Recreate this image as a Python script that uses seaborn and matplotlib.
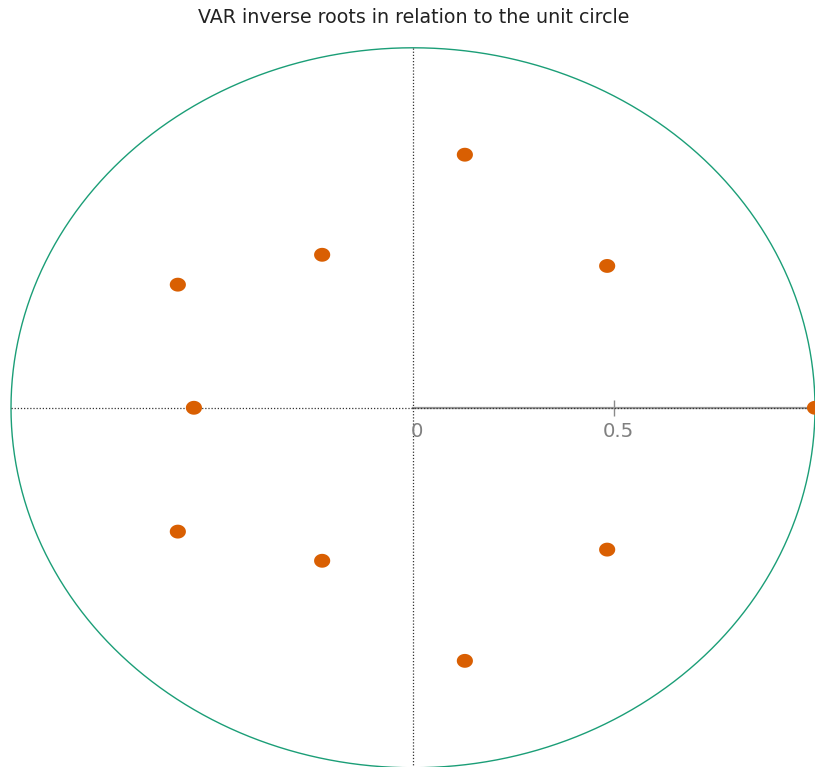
import numpy as np
import pandas as pd
import matplotlib
matplotlib.use("Agg")
import matplotlib.pyplot as plt
from matplotlib.path import Path
from matplotlib.transforms import offset_copy
import seaborn as sns

# Inverse roots of the VAR companion matrix (real, imaginary parts)
root_real = [0.129, -0.226, -0.585, 0.483, -0.545, 1.0, -0.585, -0.226, 0.483, 0.129]
root_imag = [0.703, 0.425, 0.342, 0.394, 0.0, 0.0, -0.344, -0.425, -0.394, -0.703]
tick_values = [0, 0.5]
tick_labels = ["0", "0.5"]

roots = pd.DataFrame({"real": root_real, "imag": root_imag})

sns.set_theme(style="white")
plt.rcParams["font.family"] = ["DejaVu Sans"]

fig = plt.figure(figsize=(8.15, 7.67), dpi=100)
ax = fig.add_axes([0.0135, -0.001, 0.9865, 0.9387])
ax.set_xlim(-1, 1)
ax.set_ylim(-1, 1)

# unit circle
theta = np.linspace(0, 2 * np.pi, 721)
ax.plot(np.cos(theta), np.sin(theta), color="#1b9e77", lw=1.0, clip_on=False, zorder=2)

# reference lines through the origin
ax.plot([-1, 1], [0, 0], color="#333333", lw=0.9, ls=(0, (1, 1.5)), zorder=3)
ax.plot([0, 0], [-1, 1], color="#333333", lw=0.9, ls=(0, (1, 1.5)), zorder=3)

# slightly flattened dot marker
t = np.linspace(0, 2 * np.pi, 61)
dot = Path(np.column_stack([np.cos(t), 0.86 * np.sin(t)]), closed=True)

sns.scatterplot(data=roots, x="real", y="imag", ax=ax, color="#d95f02",
                marker=dot, s=135, edgecolor="none", linewidth=0,
                zorder=4, clip_on=False, legend=False)

for s in ["top", "right", "left"]:
    ax.spines[s].set_visible(False)
ax.spines["bottom"].set_position(("data", 0))
ax.spines["bottom"].set_bounds(0, 1)
ax.spines["bottom"].set_color("#9a9a9a")
ax.spines["bottom"].set_linewidth(1.6)
ax.spines["bottom"].set_zorder(2.5)

ax.set_xticks([0.5])
ax.set_xticklabels([])
ax.tick_params(axis="x", direction="inout", length=12, width=1, color="#8a8a8a", bottom=True)
ax.set_yticks([])
ax.set_xlabel("")
ax.set_ylabel("")
ax.set_facecolor("none")

# tick labels just below the axis line
lbl_tr = offset_copy(ax.transData, fig=fig, x=4, y=-24, units="dots")
for v, txt in zip(tick_values, tick_labels):
    ax.text(v, 0, txt, transform=lbl_tr,
            ha="center", va="center", fontsize=14.2, color="#808080")

fig.text(0.508, 0.977, "VAR inverse roots in relation to the unit circle",
         ha="center", va="center", fontsize=13.7, color="#222222")

fig.savefig("out.png", dpi=100, facecolor="white")
